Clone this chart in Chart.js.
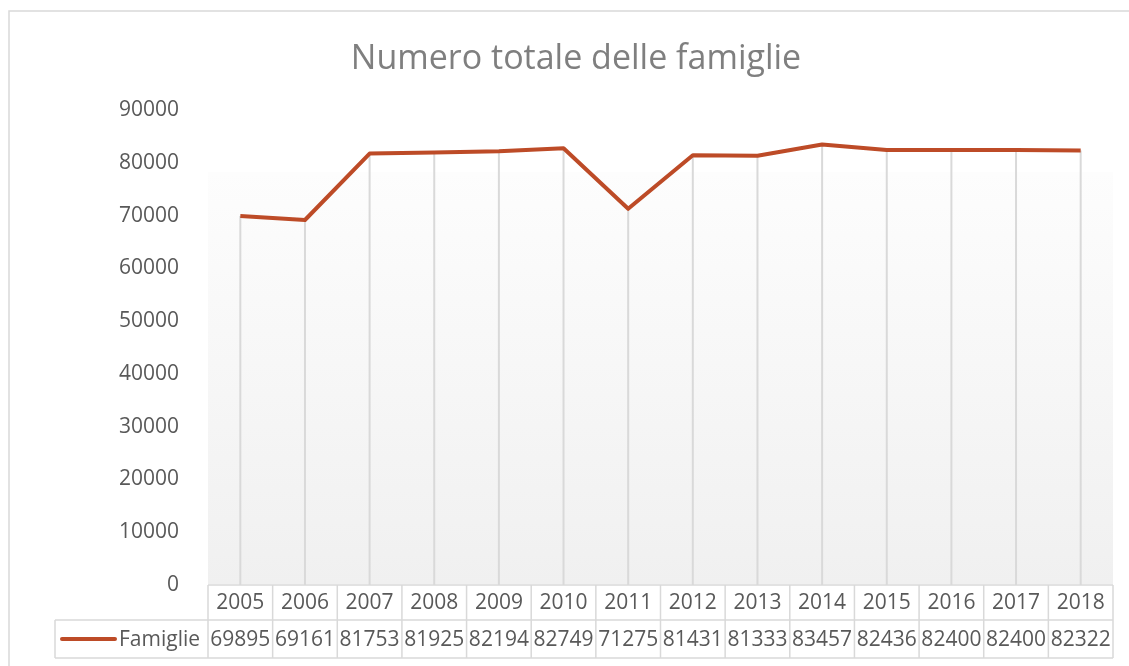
<!DOCTYPE html>
<html lang="it">
  <head>
    <meta charset="UTF-8" />
    <title>Numero totale delle famiglie</title>
    <script src="https://cdn.jsdelivr.net/npm/chart.js"></script>
    <style>
      body { margin: 0; background: #fff; }
      #wrap { width: 1129px; height: 666px; position: relative; }
    </style>
  </head>
  <body>
    <div id="wrap"><canvas id="famiglieChart"></canvas></div>
    <script>
      const anni = ["2005", "2006", "2007", "2008", "2009", "2010", "2011",
                    "2012", "2013", "2014", "2015", "2016", "2017", "2018"];
      const famiglie = [69895, 69161, 81753, 81925, 82194, 82749, 71275,
                        81431, 81333, 83457, 82436, 82400, 82400, 82322];
      const serieNome = "Famiglie";

      const lineColor = "#bd4b27";
      const gridColor = "#d9d9d9";
      const textColor = "#595959";
      const fontFamily = "'Open Sans', 'Noto Sans', sans-serif";

      // frame, plot background gradient and drop lines
      const backdrop = {
        id: "backdrop",
        beforeDraw(chart) {
          const c = chart.ctx;
          const a = chart.chartArea;
          c.save();
          c.strokeStyle = gridColor;
          c.lineWidth = 1.5;
          c.strokeRect(9, 11, 1140, 700);
          const top = a.top + 62;
          const g = c.createLinearGradient(0, top, 0, a.bottom);
          g.addColorStop(0, "#fdfdfd");
          g.addColorStop(1, "#f0f0f0");
          c.fillStyle = g;
          c.fillRect(a.left, top, a.right - a.left, a.bottom - top - 1);
          c.restore();
        },
        beforeDatasetsDraw(chart) {
          const c = chart.ctx;
          const meta = chart.getDatasetMeta(0);
          c.save();
          c.strokeStyle = gridColor;
          c.lineWidth = 2;
          meta.data.forEach((p) => {
            c.beginPath();
            c.moveTo(p.x, p.y);
            c.lineTo(p.x, chart.chartArea.bottom);
            c.stroke();
          });
          c.restore();
        },
      };

      // data table below the plot
      const dataTable = {
        id: "dataTable",
        afterDraw(chart) {
          const c = chart.ctx;
          const x = chart.scales.x;
          const a = chart.chartArea;
          const step = x.getPixelForValue(1) - x.getPixelForValue(0);
          const left = a.left, right = a.right;
          const r0 = a.bottom, r1 = a.bottom + 35, r2 = a.bottom + 73;
          const legLeft = 55;
          c.save();
          c.strokeStyle = gridColor;
          c.lineWidth = 1.5;
          c.beginPath();
          c.moveTo(left, r0); c.lineTo(right, r0);
          c.moveTo(legLeft, r1); c.lineTo(right, r1);
          c.moveTo(legLeft, r2); c.lineTo(right, r2);
          c.moveTo(legLeft, r1); c.lineTo(legLeft, r2);
          for (let i = 0; i <= anni.length; i++) {
            const px = x.getPixelForValue(i) - step / 2;
            c.moveTo(px, r0); c.lineTo(px, r2);
          }
          c.stroke();

          c.fillStyle = textColor;
          c.font = "21px " + fontFamily;
          c.textAlign = "center";
          c.textBaseline = "middle";
          anni.forEach((anno, i) => {
            const px = x.getPixelForValue(i);
            c.fillText(anno, px, (r0 + r1) / 2 + 1);
            c.fillText(String(famiglie[i]), px, (r1 + r2) / 2 + 1);
          });

          c.strokeStyle = lineColor;
          c.lineWidth = 4;
          c.lineCap = "round";
          c.beginPath();
          c.moveTo(62, (r1 + r2) / 2);
          c.lineTo(115, (r1 + r2) / 2);
          c.stroke();
          c.textAlign = "left";
          c.fillText(serieNome, 119, (r1 + r2) / 2 + 1);
          c.restore();
        },
      };

      const ctx = document.getElementById("famiglieChart").getContext("2d");
      const chart = new Chart(ctx, {
        type: "line",
        data: {
          labels: anni,
          datasets: [
            {
              label: serieNome,
              data: famiglie,
              borderColor: lineColor,
              backgroundColor: lineColor,
              borderWidth: 4,
              pointRadius: 0,
              tension: 0,
              borderJoinStyle: "round",
            },
          ],
        },
        options: {
          responsive: true,
          maintainAspectRatio: false,
          animation: false,
          layout: { padding: { left: 39, right: 16, top: 11, bottom: 81 } },
          plugins: {
            legend: { display: false },
            tooltip: { enabled: false },
            title: {
              display: true,
              text: "Numero totale delle famiglie",
              color: "#7f7f7f",
              font: { family: fontFamily, size: 34, weight: "normal" },
              padding: { top: 27.8, bottom: 30.4 },
            },
          },
          scales: {
            x: {
              display: false,
              offset: true,
            },
            y: {
              min: 0,
              max: 90000,
              border: { display: false },
              grid: { display: false },
              ticks: {
                stepSize: 10000,
                color: textColor,
                padding: 21,
                font: { family: fontFamily, size: 21 },
                callback: (v) => String(v),
              },
              afterFit(scale) {
                scale.width = 169;
              },
            },
          },
        },
        plugins: [backdrop, dataTable],
      });
    </script>
  </body>
</html>
